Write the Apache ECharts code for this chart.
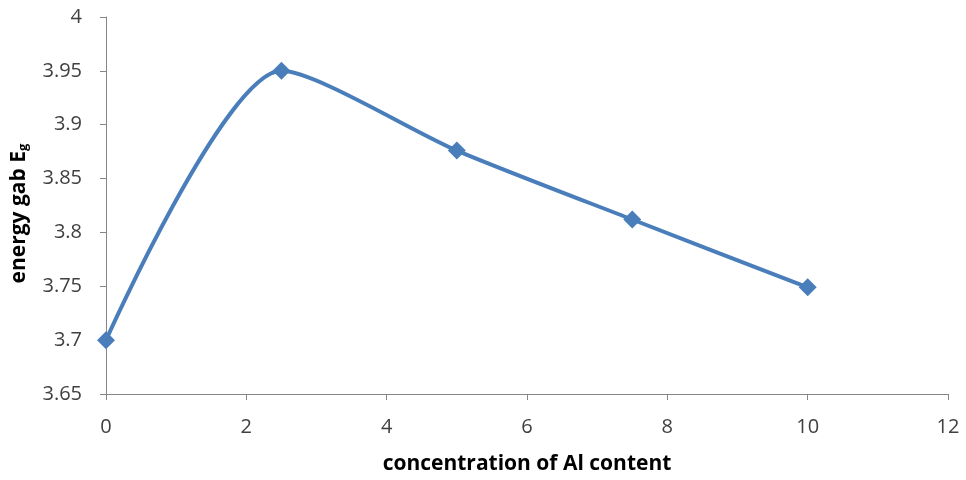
<!DOCTYPE html>
<html>
<head>
<meta charset="utf-8">
<script src="https://cdn.jsdelivr.net/npm/echarts@6/dist/echarts.min.js"></script>
<style>
  html, body { margin: 0; padding: 0; background: #fff; }
  #chart { width: 966px; height: 480px; }
</style>
</head>
<body>
<div id="chart"></div>
<script>
// Al concentration vs energy gap
const alContent = [0, 2.5, 5, 7.5, 10];
const energyGap = [3.7, 3.95, 3.876, 3.812, 3.749];

const chart = echarts.init(document.getElementById('chart'));
const axisColor = '#868686';
const labelColor = '#404040';
const font = '"Open Sans", "Liberation Sans", sans-serif';

chart.setOption({
  animation: false,
  grid: { left: 106, right: 18, top: 17, bottom: 86 },
  xAxis: {
    type: 'value',
    min: 0, max: 12, interval: 2,
    name: 'concentration of Al content',
    nameLocation: 'middle',
    nameGap: 60,
    nameTextStyle: { fontFamily: font, fontSize: 21, fontWeight: 'bold', color: '#000' },
    axisLine: { show: true, lineStyle: { color: axisColor, width: 1 } },
    axisTick: { show: true, length: 6, lineStyle: { color: axisColor } },
    axisLabel: { fontFamily: font, fontSize: 20, color: labelColor, margin: 23 },
    splitLine: { show: false }
  },
  yAxis: {
    type: 'value',
    min: 3.65, max: 4, interval: 0.05,
    name: '{a|energy gab E}{b|g}',
    nameLocation: 'middle',
    nameRotate: 90,
    nameGap: 76,
    nameTextStyle: {
      padding: [0, 16, 0, 0],
      rich: {
        a: { fontFamily: font, fontSize: 21, fontWeight: 'bold', color: '#000' },
        b: { fontFamily: font, fontSize: 13, fontWeight: 'bold', color: '#000', padding: [9, 0, 0, 0] }
      }
    },
    axisLine: { show: true, lineStyle: { color: axisColor, width: 1 } },
    axisTick: { show: true, length: 6, lineStyle: { color: axisColor } },
    axisLabel: {
      fontFamily: font, fontSize: 20, color: labelColor, margin: 24,
      formatter: v => String(parseFloat(v.toFixed(2)))
    },
    splitLine: { show: false }
  },
  series: [{
    type: 'line',
    data: alContent.map((x, i) => [x, energyGap[i]]),
    smooth: 0.25,
    symbol: 'diamond',
    symbolSize: 18,
    itemStyle: { color: '#4a7ebb' },
    lineStyle: { color: '#4a7ebb', width: 4 }
  }]
});
</script>
</body>
</html>
